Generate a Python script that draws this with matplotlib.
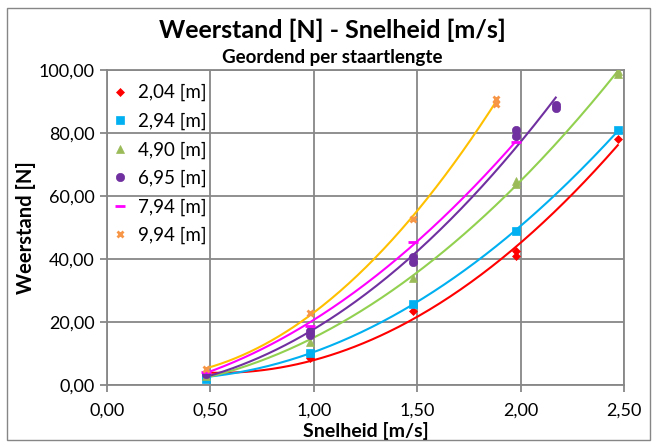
import numpy as np
import matplotlib
matplotlib.use("Agg")
import matplotlib.pyplot as plt
from matplotlib.patches import Rectangle
from matplotlib.ticker import FuncFormatter

plt.rcParams["font.family"] = ["Lato", "DejaVu Sans"]

# Meetpunten per staartlengte (snelheid [m/s], weerstand [N])
labels = ["2,04 [m]", "2,94 [m]", "4,90 [m]", "6,95 [m]", "7,94 [m]", "9,94 [m]"]

v_204 = [0.48, 0.98, 1.48, 1.98, 1.98, 2.47]
f_204 = [3.0, 8.6, 23.5, 41.0, 42.5, 78.0]

v_294 = [0.48, 0.48, 0.98, 1.48, 1.98, 2.47]
f_294 = [2.0, 3.0, 10.2, 25.8, 48.9, 80.8]

v_490 = [0.48, 0.98, 1.48, 1.98, 1.98, 2.47, 2.47]
f_490 = [2.8, 13.8, 34.0, 63.8, 64.8, 98.8, 99.8]

v_695 = [0.48, 0.98, 0.98, 1.48, 1.48, 1.98, 1.98, 2.17, 2.17]
f_695 = [3.5, 15.8, 17.0, 39.2, 40.6, 79.2, 80.8, 87.8, 88.8]

v_794 = [0.48, 0.98, 1.48, 1.98]
f_794 = [4.2, 18.8, 45.5, 77.2]

v_994 = [0.48, 0.98, 1.48, 1.88, 1.88]
f_994 = [5.0, 23.0, 52.6, 89.3, 90.8]

series = [
    (v_204, f_204, "D", "#FF0000", "#FF0000", 4.5),
    (v_294, f_294, "s", "#00B0F0", "#00B0F0", 5.5),
    (v_490, f_490, "^", "#9BBB59", "#92D050", 6),
    (v_695, f_695, "o", "#7030A0", "#7030A0", 6),
    (v_794, f_794, "_", "#FF00FF", "#FF00FF", 7),
    (v_994, f_994, "x", "#F79646", "#FFC000", 5),
]

fig = plt.figure(figsize=(6.54, 4.46), dpi=100)
fig.patch.set_facecolor("white")
fig.add_artist(Rectangle((7 / 654, 6 / 446), 643 / 654, 432 / 446,
                         transform=fig.transFigure, fill=False,
                         ec="#868686", lw=1.0))

ax = fig.add_axes([107 / 654, 1 - 385 / 446, 517 / 654, 315 / 446])
grey = "#878787"

# Trendlijnen (2e-graads fit door de meetpunten)
for (vx, fy, mk, mc, lc, ms) in series:
    c = np.polyfit(vx, fy, 2)
    xs = np.linspace(min(vx), max(vx), 200)
    ax.plot(xs, np.polyval(c, xs), color=lc, lw=1.5, zorder=3)

# Meetpunten
for (vx, fy, mk, mc, lc, ms), lab in zip(series, labels):
    mew = 2.0 if mk in ("_", "x") else 0.5
    ax.plot(vx, fy, ls="none", marker=mk, ms=ms, color=mc, mec=mc,
            mew=mew, label=lab, zorder=4)

ax.set_xlim(0, 2.5)
ax.set_ylim(0, 100)
ax.set_xticks(np.arange(0, 2.51, 0.5))
ax.set_yticks(np.arange(0, 101, 20))
fmt = FuncFormatter(lambda val, pos: f"{val:.2f}".replace(".", ","))
ax.xaxis.set_major_formatter(fmt)
ax.yaxis.set_major_formatter(fmt)
ax.grid(True, color=grey, lw=1.3)
ax.set_axisbelow(True)
for s in ax.spines.values():
    s.set_color(grey)
    s.set_linewidth(1.3)
ax.tick_params(axis="both", direction="out", length=5, width=1.3,
               color=grey, labelsize=13, labelcolor="black", pad=4)
ax.tick_params(axis="x", pad=8)

ax.set_xlabel("Snelheid [m/s]", fontsize=14, fontweight="bold", labelpad=2)
ax.set_ylabel("Weerstand [N]", fontsize=14.5, fontweight="bold", labelpad=2)

fig.text(332 / 654, 1 - 30 / 446, "Weerstand [N] - Snelheid [m/s]",
         ha="center", va="center", fontsize=18, fontweight="bold")
fig.text(332 / 654, 1 - 57 / 446, "Geordend per staartlengte",
         ha="center", va="center", fontsize=13.5, fontweight="bold")

leg = ax.legend(loc="upper left", bbox_to_anchor=(112 / 654, 1 - 84 / 446),
                bbox_transform=fig.transFigure, frameon=False,
                fontsize=13.5, handlelength=0.8, handletextpad=0.6,
                labelspacing=0.6, borderpad=0, borderaxespad=0)

fig.savefig("out.png", dpi=100, facecolor="white")
